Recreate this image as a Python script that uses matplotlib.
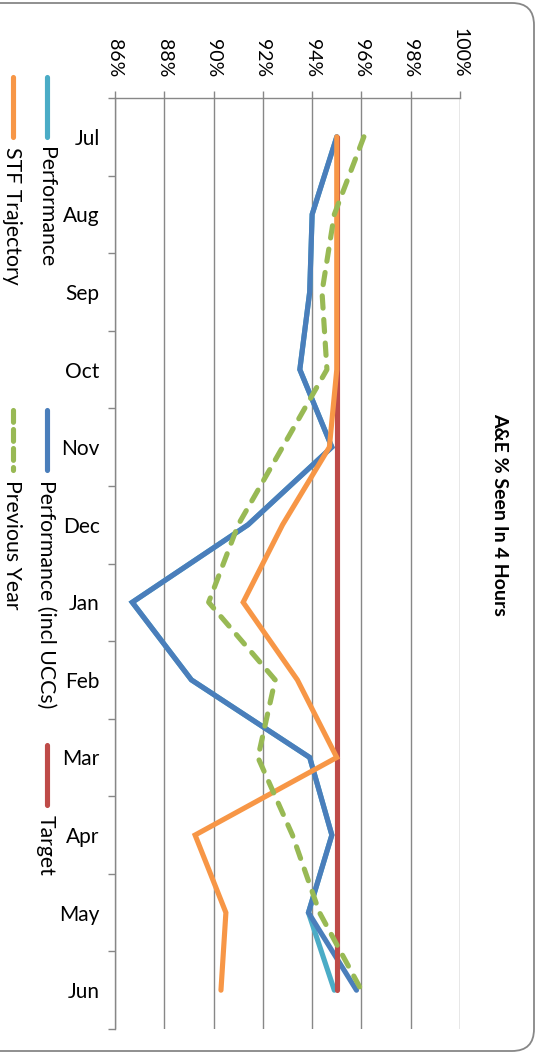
import numpy as np
import matplotlib
matplotlib.use("Agg")
from matplotlib import pyplot as plt
from matplotlib.patches import FancyBboxPatch

plt.rcParams['font.family'] = ['Lato', 'DejaVu Sans']

months = ['Jul', 'Aug', 'Sep', 'Oct', 'Nov', 'Dec', 'Jan', 'Feb', 'Mar', 'Apr', 'May', 'Jun']
performance = [95.0, 94.0, 93.9, 93.5, 94.8, 91.4, 86.7, 89.1, 93.9, 94.8, 93.85, 94.9]
performance_uccs = [95.0, 94.0, 93.9, 93.5, 94.8, 91.4, 86.7, 89.1, 93.9, 94.8, 93.85, 95.8]
target = [95.0] * 12
stf_trajectory = [95.0, 95.0, 95.0, 95.0, 94.7, 92.8, 91.2, 93.4, 95.0, 89.25, 90.5, 90.3]
previous_year = [96.1, 94.9, 94.4, 94.6, 92.8, 91.0, 89.8, 92.5, 91.8, 93.2, 94.3, 96.0]
pct_ticks = [86, 88, 90, 92, 94, 96, 98, 100]

W, H = 541, 1053
grey = '#878787'
c_perf = '#4BACC6'
c_uccs = '#4A7EBB'
c_target = '#BE4B48'
c_stf = '#F79646'
c_prev = '#98B954'

fig = plt.figure(figsize=(W / 100, H / 100), dpi=100)

# full-figure axes in pixel units for the frame, legend and title
bg = fig.add_axes([0, 0, 1, 1])
bg.set_xlim(0, W)
bg.set_ylim(H, 0)
bg.axis('off')
bg.add_patch(FancyBboxPatch((-40, 3), 574, 1048, boxstyle='round,pad=0,rounding_size=22',
                            ec=grey, fc='none', lw=1.3))

ax = fig.add_axes([115 / W, 1 - 1029 / H, (460 - 115) / W, (1029 - 98) / H])
ax.set_facecolor('none')

y = np.arange(len(months))
lw = 3.7
kw = dict(lw=lw, solid_capstyle='round', solid_joinstyle='miter')
ax.plot(performance, y, color=c_perf, **kw)
ax.plot(performance_uccs, y, color=c_uccs, **kw)
ax.plot(target, y, color=c_target, **kw)
ax.plot(stf_trajectory, y, color=c_stf, **kw)
ax.plot(previous_year, y, color=c_prev, lw=lw, dashes=(2.4, 2.2),
        dash_capstyle='round', solid_joinstyle='miter')

ax.set_xlim(86, 100)
ax.set_ylim(len(months) - 0.5, -0.5)

ax.xaxis.tick_top()
ax.set_xticks(pct_ticks)
ax.set_xticklabels([f'{v}%' for v in pct_ticks])
ax.tick_params(axis='x', direction='out', length=5, width=1, color=grey, pad=10,
               labelrotation=-90, labelsize=14)
ax.grid(axis='x', color=grey, lw=1)

ax.set_yticks(np.arange(-0.5, len(months), 1))
ax.set_yticklabels([])
ax.set_yticks(y, minor=True)
ax.set_yticklabels(months, minor=True)
ax.tick_params(axis='y', which='major', direction='out', length=5, width=1, color=grey)
ax.tick_params(axis='y', which='minor', length=0, pad=11, labelsize=15)

for side in ['right', 'bottom']:
    ax.spines[side].set_visible(False)
for side in ['left', 'top']:
    ax.spines[side].set_color(grey)
    ax.spines[side].set_linewidth(1)

bg.text(500, 514, 'A&E % Seen In 4 Hours', rotation=-90, ha='center', va='center',
        fontsize=14, fontweight='bold')

# legend, laid out in two columns
legend = [
    (47, 77, 'Performance', c_perf, None),
    (13, 77, 'STF Trajectory', c_stf, None),
    (47, 410, 'Performance (incl UCCs)', c_uccs, None),
    (13, 410, 'Previous Year', c_prev, (2.3, 1.4)),
    (47, 745, 'Target', c_target, None),
]
for x, top, label, color, dash in legend:
    if dash:
        bg.plot([x, x], [top, top + 60], color=color, lw=lw, dashes=dash, dash_capstyle='round')
    else:
        bg.plot([x, x], [top, top + 60], color=color, lw=lw, solid_capstyle='round')
    bg.text(x - 1, top + 70, label, rotation=-90, ha='center', va='top', fontsize=15.3)

fig.savefig('out.png', dpi=100)
